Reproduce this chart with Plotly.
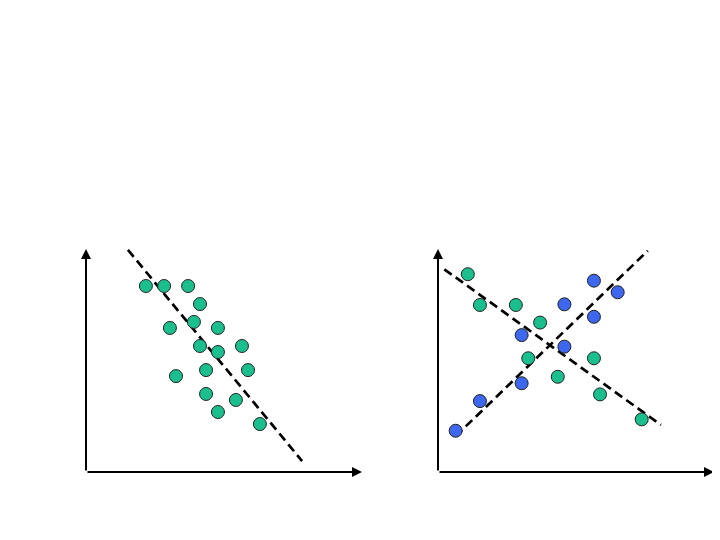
import plotly.graph_objects as go

# Left panel: single group with negative correlation
left_x = [2.17, 2.83, 3.70, 4.13, 3.04, 3.91, 4.78, 4.13, 4.78, 5.65, 3.26, 4.35, 5.87, 4.35, 5.43, 4.78, 6.30]
left_y = [8.34, 8.34, 8.34, 7.53, 6.46, 6.73, 6.46, 5.65, 5.38, 5.65, 4.30, 4.57, 4.57, 3.50, 3.23, 2.69, 2.15]
left_line_x = [1.52, 7.83]
left_line_y = [9.96, 0.49]

# Right panel: two groups with opposite trends
green_x = [1.08, 1.52, 2.82, 3.70, 3.27, 5.65, 4.34, 5.87, 7.38]
green_y = [8.87, 7.49, 7.49, 6.70, 5.10, 5.10, 4.27, 3.48, 2.36]
blue_x = [5.65, 6.51, 4.58, 5.65, 3.03, 4.58, 3.03, 1.52, 0.64]
blue_y = [8.58, 8.06, 7.52, 6.96, 6.14, 5.62, 3.98, 3.18, 1.85]
green_line_x = [0.23, 8.08]
green_line_y = [9.09, 2.11]
blue_line_x = [0.64, 7.60]
blue_line_y = [1.61, 9.92]

GREEN = "#1BBF8E"
BLUE = "#3C67EE"

fig = go.Figure()

dash_style = dict(color="black", width=2.7, dash="9px,5px")
mk = lambda c: dict(size=13, color=c, line=dict(color="#222222", width=1))

fig.add_trace(go.Scatter(x=left_line_x, y=left_line_y, mode="lines", line=dash_style,
                         xaxis="x", yaxis="y", showlegend=False, hoverinfo="skip", cliponaxis=False))
fig.add_trace(go.Scatter(x=left_x, y=left_y, mode="markers", marker=mk(GREEN),
                         xaxis="x", yaxis="y", showlegend=False, cliponaxis=False))

fig.add_trace(go.Scatter(x=green_line_x, y=green_line_y, mode="lines", line=dash_style,
                         xaxis="x2", yaxis="y2", showlegend=False, hoverinfo="skip", cliponaxis=False))
fig.add_trace(go.Scatter(x=blue_line_x, y=blue_line_y, mode="lines", line=dash_style,
                         xaxis="x2", yaxis="y2", showlegend=False, hoverinfo="skip", cliponaxis=False))
fig.add_trace(go.Scatter(x=green_x, y=green_y, mode="markers", marker=mk(GREEN),
                         xaxis="x2", yaxis="y2", showlegend=False, cliponaxis=False))
fig.add_trace(go.Scatter(x=blue_x, y=blue_y, mode="markers", marker=mk(BLUE),
                         xaxis="x2", yaxis="y2", showlegend=False, cliponaxis=False))

# page body has an 8px default margin; size the figure to fit the window
OFF = 8
W, H = 720 - OFF, 540 - OFF


def fx(px):
    return (px - OFF) / W


def fy(py):
    return (H - (py - OFF)) / H


ax_common = dict(range=[0, 10], showgrid=False, zeroline=False, showticklabels=False,
                 ticks="", showline=False, fixedrange=True)

fig.update_layout(
    width=W, height=H,
    margin=dict(l=0, r=0, t=0, b=0),
    paper_bgcolor="white", plot_bgcolor="white",
    xaxis=dict(domain=[fx(86), fx(362)], anchor="y", **ax_common),
    yaxis=dict(domain=[fy(472), fy(249)], anchor="x", **ax_common),
    xaxis2=dict(domain=[fx(438), fx(714)], anchor="y2", **ax_common),
    yaxis2=dict(domain=[fy(472), fy(249)], anchor="x2", **ax_common),
)

annotations = []
for xr, yr in [("x", "y"), ("x2", "y2")]:
    for (tx, ty) in [(10, 0), (0, 10)]:
        annotations.append(dict(
            x=tx, y=ty, ax=0, ay=0, xref=xr, yref=yr, axref=xr, ayref=yr,
            text="", showarrow=True, arrowhead=2, arrowsize=1.0, arrowwidth=2,
            arrowcolor="black", standoff=0, startstandoff=0,
        ))
fig.update_layout(annotations=annotations)

fig.write_html("out.html")
